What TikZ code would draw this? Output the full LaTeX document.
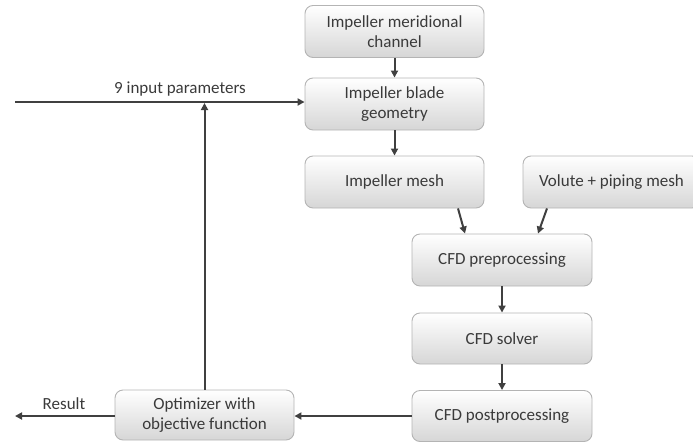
\documentclass[tikz,border=0pt]{standalone}
\usepackage{fontspec}
\setmainfont{Carlito}
\usetikzlibrary{arrows.meta,calc}
\definecolor{txt}{HTML}{3A3A3A}
\definecolor{arrc}{HTML}{404040}
\definecolor{bord}{HTML}{B4B4B4}
\definecolor{shd}{HTML}{D6D6D6}
\begin{document}
\begin{tikzpicture}[x=1pt,y=-1pt,
  box/.style={draw=bord, line width=0.9pt, rounded corners=8pt, top color=white, bottom color=shd,
    minimum width=179pt, minimum height=52pt, inner sep=0pt, align=center, text=txt,
    font=\fontsize{17}{20}\selectfont},
  lbl/.style={text=txt, inner sep=0pt, font=\fontsize{17}{20}\selectfont},
  arr/.style={draw=arrc, line width=2pt, -{Triangle[length=7pt,width=7pt]}}]
\useasboundingbox (0,0) rectangle (693,442);
\node[box] (n1) at (394.5,31.5) {Impeller meridional\\channel};
\node[box] (n2) at (394.5,104) {Impeller blade\\geometry};
\node[box] (n3) at (394.5,182) {Impeller mesh};
\node[box, minimum width=177pt] (n4) at (611.5,182) {Volute + piping mesh};
\node[box, minimum width=180pt] (n5) at (502,260) {CFD preprocessing};
\node[box, minimum width=180pt, minimum height=51pt] (n6) at (502,338.5) {CFD solver};
\node[box, minimum width=180pt, minimum height=51pt] (n7) at (502,416) {CFD postprocessing};
\node[box, minimum height=50pt] (n8) at (204.5,415) {Optimizer with\\objective function};
\coordinate (in) at (15,102);
\coordinate (res) at (15,416);
\node[lbl] (lin) at (180,89) {9 input parameters};
\node[lbl] (lres) at (64,404) {Result};
\draw[arr] (n1) -- (n2);
\draw[arr] (n2) -- (n3);
\draw[arr] ([xshift=63.5pt]n3.south) -- ([xshift=-37pt]n5.north);
\draw[arr] ([xshift=-64.5pt]n4.south) -- ([xshift=36pt]n5.north);
\draw[arr] (n5) -- (n6);
\draw[arr] (n6) -- (n7);
\draw[arr] (n7.west) -- (n7.west -| n8.east);
\draw[arr] (n8.west |- res) -- (res);
\draw[arr] (in) -- (in -| n2.west);
\draw[arr] (n8.north) -- ([yshift=-1pt]n8.north |- in);
\end{tikzpicture}
\end{document}
